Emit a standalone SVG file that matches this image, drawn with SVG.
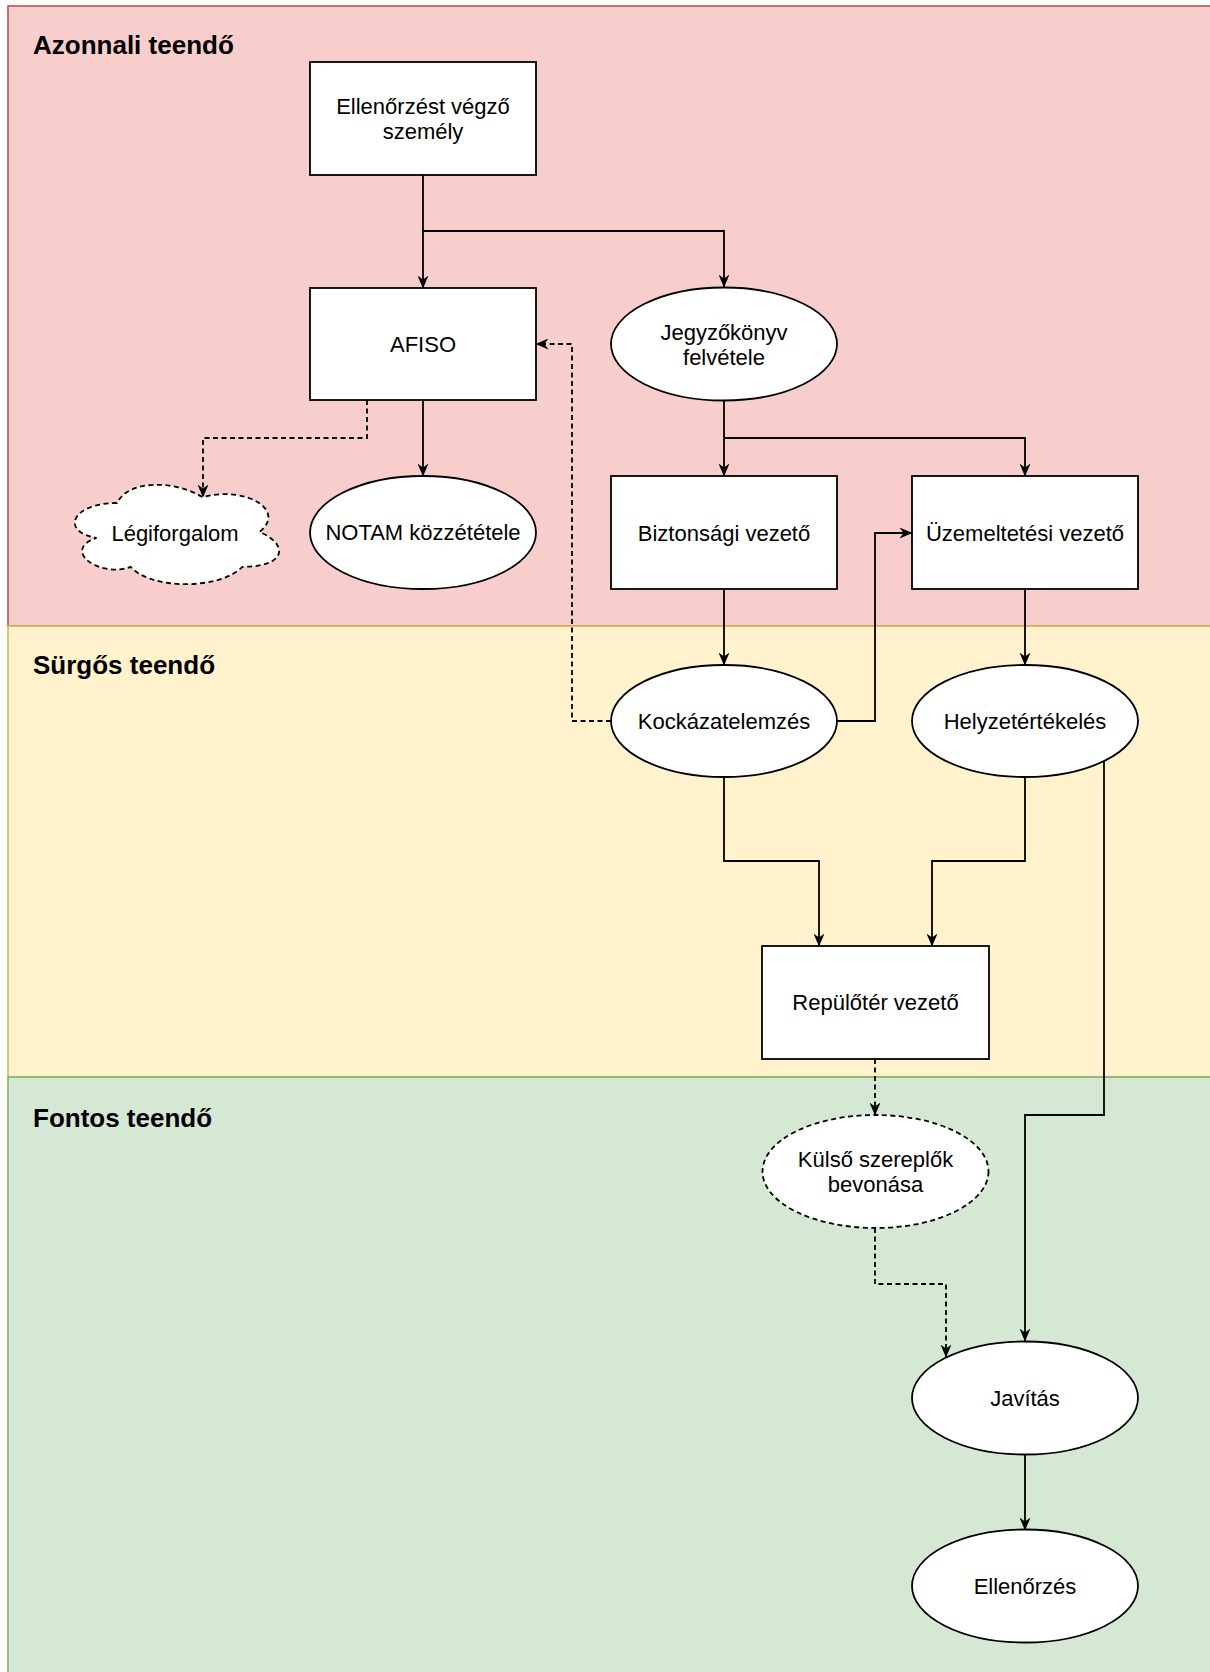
<svg xmlns="http://www.w3.org/2000/svg" width="1210" height="1672" viewBox="0 0 1210 1672">
<defs>
<style>
.lane-title{font-family:"Liberation Sans",Arial,sans-serif;font-weight:bold;font-size:26px;fill:#000}
.lbl{font-family:"Liberation Sans",Arial,sans-serif;font-size:22px;fill:#000;text-anchor:middle}
.box{fill:#fff;stroke:#000;stroke-width:1.8}
.dash{stroke-dasharray:5 3.5}
.edge{fill:none;stroke:#000;stroke-width:1.8}
</style>
<marker id="arr" viewBox="0 0 13 11" refX="12.5" refY="5.5" markerWidth="13" markerHeight="11" markerUnits="userSpaceOnUse" orient="auto">
<path d="M0,0 L13,5.5 L0,11 L4,5.5 Z" fill="#000"/>
</marker>
</defs>

<g id="lanes">
<rect x="8" y="6" width="1210" height="620" fill="#f8cecc" stroke="#b85450" stroke-width="1.6"/>
<rect x="8" y="626" width="1210" height="451" fill="#fff2cc" stroke="#d6b656" stroke-width="1.6"/>
<rect x="8" y="1077" width="1210" height="610" fill="#d5e8d4" stroke="#82b366" stroke-width="1.6"/>
<text class="lane-title" x="33" y="54">Azonnali teendő</text>
<text class="lane-title" x="33" y="674">Sürgős teendő</text>
<text class="lane-title" x="33" y="1127">Fontos teendő</text>
</g>

<g id="connectors">
<path class="edge" d="M423,175 L423,288" marker-end="url(#arr)"/>
<path class="edge" d="M423,231 L724,231 L724,287" marker-end="url(#arr)"/>
<path class="edge" d="M724,400 L724,476" marker-end="url(#arr)"/>
<path class="edge" d="M724,438 L1025,438 L1025,476" marker-end="url(#arr)"/>
<path class="edge" d="M423,400 L423,476" marker-end="url(#arr)"/>
<path class="edge dash" d="M367,400 L367,438 L203,438 L203,497" marker-end="url(#arr)"/>
<path class="edge" d="M724,589 L724,665" marker-end="url(#arr)"/>
<path class="edge" d="M1025,589 L1025,665" marker-end="url(#arr)"/>
<path class="edge" d="M837,721 L875,721 L875,533 L912,533" marker-end="url(#arr)"/>
<path class="edge dash" d="M611,721 L572,721 L572,344 L536,344" marker-end="url(#arr)"/>
<path class="edge" d="M724,777 L724,861 L819,861 L819,946" marker-end="url(#arr)"/>
<path class="edge" d="M1025,777 L1025,861 L932,861 L932,946" marker-end="url(#arr)"/>
<path class="edge" d="M1104,761 L1104,1115 L1025,1115 L1025,1341" marker-end="url(#arr)"/>
<path class="edge dash" d="M875,1059 L875,1115" marker-end="url(#arr)"/>
<path class="edge dash" d="M875,1228 L875,1284 L946,1284 L946,1357" marker-end="url(#arr)"/>
<path class="edge" d="M1025,1454 L1025,1530" marker-end="url(#arr)"/>
</g>

<g id="node-ellenorzest">
<rect class="box" x="310" y="62" width="226" height="113"/>
<text class="lbl" x="423" y="114">Ellenőrzést végző</text>
<text class="lbl" x="423" y="139">személy</text>
</g>

<g id="node-afiso">
<rect class="box" x="310" y="288" width="226" height="112"/>
<text class="lbl" x="423" y="352">AFISO</text>
</g>

<g id="node-jegyzokonyv">
<ellipse class="box" cx="724" cy="344" rx="113" ry="56.5"/>
<text class="lbl" x="724" y="340">Jegyzőkönyv</text>
<text class="lbl" x="724" y="365">felvétele</text>
</g>

<g id="node-legiforgalom">
<path class="box dash" d="M117,503 C71.4,503 60,532 96.5,537.8 C60,550.6 101,578.4 130.7,566.8 C151.2,590 219.6,590 242.4,566.8 C288,566.8 288,543.6 259.5,532 C288,508.8 242.4,485.6 202.5,497.2 C174,479.8 128.4,479.8 117,503 Z"/>
<text class="lbl" x="175" y="541">Légiforgalom</text>
</g>

<g id="node-notam">
<ellipse class="box" cx="423" cy="532.5" rx="113" ry="56.5"/>
<text class="lbl" x="423" y="540">NOTAM közzététele</text>
</g>

<g id="node-biztonsagi">
<rect class="box" x="611" y="476" width="226" height="113"/>
<text class="lbl" x="724" y="541">Biztonsági vezető</text>
</g>

<g id="node-uzemeltetesi">
<rect class="box" x="912" y="476" width="226" height="113"/>
<text class="lbl" x="1025" y="541">Üzemeltetési vezető</text>
</g>

<g id="node-kockazat">
<ellipse class="box" cx="724" cy="721" rx="113" ry="56"/>
<text class="lbl" x="724" y="729">Kockázatelemzés</text>
</g>

<g id="node-helyzet">
<ellipse class="box" cx="1025" cy="721" rx="113" ry="56"/>
<text class="lbl" x="1025" y="729">Helyzetértékelés</text>
</g>

<g id="node-repuloter">
<rect class="box" x="762" y="946" width="227" height="113"/>
<text class="lbl" x="875.5" y="1010">Repülőtér vezető</text>
</g>

<g id="node-kulso">
<ellipse class="box dash" cx="875.5" cy="1171.5" rx="113" ry="56.5"/>
<text class="lbl" x="875.5" y="1167">Külső szereplők</text>
<text class="lbl" x="875.5" y="1192">bevonása</text>
</g>

<g id="node-javitas">
<ellipse class="box" cx="1025" cy="1398" rx="113" ry="56.5"/>
<text class="lbl" x="1025" y="1406">Javítás</text>
</g>

<g id="node-ellenorzes">
<ellipse class="box" cx="1025" cy="1586" rx="113" ry="56.5"/>
<text class="lbl" x="1025" y="1594">Ellenőrzés</text>
</g>
</svg>
